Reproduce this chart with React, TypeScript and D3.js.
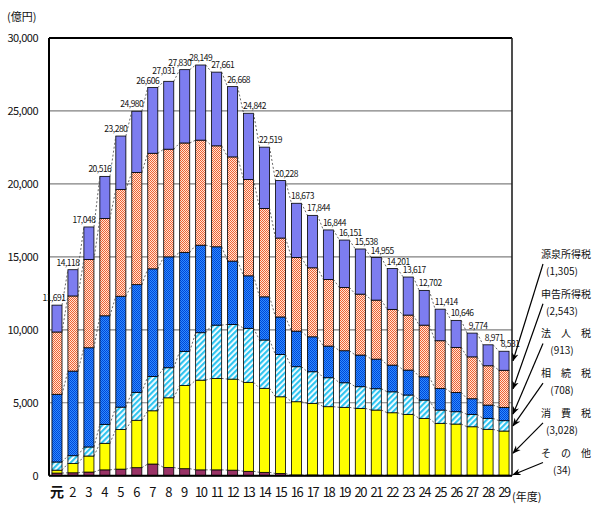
import React from 'react';
import * as d3 from 'd3';

const years = ['元','2','3','4','5','6','7','8','9','10','11','12','13','14','15','16','17','18','19','20','21','22','23','24','25','26','27','28','29'];
const totals = [11691,14118,17048,20516,23280,24980,26606,27031,27830,28149,27661,26668,24842,22519,20228,18673,17844,16844,16151,15538,14955,14201,13617,12702,11414,10646,9774,8971,8531];

// stacked from bottom to top
const sonota = [180,200,250,400,450,550,800,560,480,400,400,380,300,230,150,50,50,40,40,40,40,35,35,35,35,35,35,35,34];
const shohi = [200,630,1100,1820,2720,3250,3650,4780,5700,6150,6270,6240,6100,5760,5260,5020,4910,4690,4645,4575,4460,4280,4170,3895,3555,3505,3320,3145,3028];
const sozoku = [560,540,620,1300,1530,1915,2350,2060,2345,3250,3650,3750,3700,3310,2895,2400,2165,1985,1685,1485,1460,1435,1325,1255,910,845,850,750,708];
const hojin = [4640,5800,6800,7440,7600,7380,7380,7600,6785,6000,5370,4340,3600,2960,2575,2440,2395,2170,2195,2170,2030,1830,1710,1595,1485,1325,1070,910,913];
const shinkoku = [4270,5150,6050,6670,7310,7690,7920,7380,7495,7200,6920,7140,6600,6060,5410,5050,4730,4565,4340,4175,4045,3820,3770,3540,3265,3085,2870,2695,2543];
const gensen = [1841,1798,2228,2886,3670,4195,4506,4651,5025,5149,5051,4818,4542,4199,3938,3713,3594,3394,3246,3093,2920,2801,2607,2382,2164,1851,1629,1436,1305];

const seriesKeys = ['sonota','shohi','sozoku','hojin','shinkoku','gensen'];
const seriesNames = ['そ　の　他','消　費　税','相　続　税','法　人　税','申告所得税','源泉所得税'];
const seriesData = [sonota, shohi, sozoku, hojin, shinkoku, gensen];
const yTicks = [0,5000,10000,15000,20000,25000,30000];

const fills: Record<string, string> = {
  sonota: '#993366',
  shohi: '#FFFF00',
  sozoku: 'url(#pHatch)',
  hojin: 'url(#pBlue)',
  shinkoku: 'url(#pOrange)',
  gensen: '#7D7DF0',
};

const fmt = d3.format(',');

export default function App() {
  const W = 600, H = 513;
  const left = 49, right = 512, top = 38, bottom = 475.7;
  const x = d3.scaleBand<string>().domain(years).range([left, right]).paddingInner(0.37).paddingOuter(0.185);
  const y = d3.scaleLinear().domain([0, 30000]).range([bottom, top]);
  const rows = years.map((yr, i) => {
    const r: any = { year: yr };
    seriesKeys.forEach((k, j) => (r[k] = seriesData[j][i]));
    return r;
  });
  const stacked = d3.stack<any>().keys(seriesKeys)(rows);
  const bw = x.bandwidth();
  const maxIdx = totals.indexOf(Math.max(...totals));
  const font = '"Noto Sans CJK JP", "Noto Sans", sans-serif';
  const lastIdx = years.length - 1;

  return (
    <svg width={W} height={H} style={{ position: 'absolute', left: 0, top: 0, background: '#fff' }}>
      <defs>
        <pattern id="pOrange" width="2" height="2" patternUnits="userSpaceOnUse">
          <rect width="2" height="2" fill="#FFE4D6" />
          <rect x="0" y="0" width="1" height="1" fill="#F06232" />
          <rect x="1" y="1" width="1" height="1" fill="#F06232" />
        </pattern>
        <pattern id="pBlue" width="2" height="2" patternUnits="userSpaceOnUse">
          <rect width="2" height="2" fill="#2E8CFF" />
          <rect x="0" y="0" width="1" height="1" fill="#0046D8" />
          <rect x="1" y="1" width="1" height="1" fill="#0046D8" />
        </pattern>
        <pattern id="pHatch" width="4" height="4" patternUnits="userSpaceOnUse" patternTransform="rotate(45)">
          <rect width="4" height="4" fill="#FFFFFF" />
          <rect x="0" y="0" width="2.2" height="4" fill="#2EC4F0" />
        </pattern>
        <marker id="arrow" viewBox="0 0 10 10" refX="9" refY="5" markerWidth="7" markerHeight="7" orient="auto">
          <path d="M0,1 L10,5 L0,9 L3,5 Z" fill="#000" />
        </marker>
      </defs>

      {/* grid */}
      {yTicks.map(t => (
        <line key={'g' + t} x1={left} x2={right} y1={y(t)} y2={y(t)} stroke={t === 30000 || t === 0 ? '#000' : '#808080'} strokeWidth={t === 30000 ? 2 : 1.2} />
      ))}
      <line x1={right} x2={right} y1={top} y2={bottom} stroke="#222" strokeWidth={1.6} />

      {/* bars */}
      {stacked.map(s => (
        <g key={s.key}>
          {s.map((d, i) => (
            <rect key={i} x={x(years[i])} y={y(d[1])} width={bw} height={Math.max(0, y(d[0]) - y(d[1]))}
              fill={fills[s.key]} stroke="#000" strokeWidth={0.8} />
          ))}
        </g>
      ))}

      {/* dashed connectors */}
      {stacked.map(s => (
        <g key={'c' + s.key}>
          {s.slice(0, -1).map((d, i) => (
            <line key={i} x1={(x(years[i]) as number) + bw} y1={y(d[1])} x2={x(years[i + 1]) as number} y2={y(s[i + 1][1])}
              stroke="#444" strokeWidth={0.8} strokeDasharray="2,2" />
          ))}
        </g>
      ))}

      {/* axes lines */}
      <line x1={left} x2={left} y1={top} y2={bottom} stroke="#000" strokeWidth={2} />
      <line x1={left} x2={right} y1={bottom} y2={bottom} stroke="#000" strokeWidth={2} />

      {/* total labels */}
      {totals.map((t, i) => {
        const cx = (x(years[i]) as number) + bw / 2;
        let dx = 6;
        let dy = 4;
        if (i === maxIdx) dx = 0;
        else if (i < lastIdx && totals[i + 1] > t) {
          dx = i === 0 ? -3 : -5;
          if (i > 0 && t - totals[i - 1] < 600) dy = 7.5;
        }
        return (
          <text key={'t' + i} x={cx + dx} y={y(t) - dy} fontSize={8.5} textAnchor="middle" fontFamily={font} letterSpacing={-0.5} fill="#111">
            {fmt(t)}
          </text>
        );
      })}

      {/* y tick labels */}
      {yTicks.map(t => (
        <text key={'yt' + t} x={38} y={y(t) + 4} fontSize={11} textAnchor="end" fontFamily={font} letterSpacing={-0.5} fill="#111">
          {fmt(t)}
        </text>
      ))}
      <text x={7} y={21} fontSize={11} fontFamily={font} fill="#111">(億円)</text>

      {/* x tick labels */}
      {years.map((yr, i) => (
        <text key={'x' + i} x={(x(yr) as number) + bw / 2} y={497} fontSize={yr === '元' ? 14 : 13} fontWeight={yr === '元' ? 'bold' : 'normal'}
          textAnchor="middle" fontFamily={font} letterSpacing={yr.length > 1 ? -1.5 : 0} fill="#111">
          {yr}
        </text>
      ))}
      <text x={512} y={501} fontSize={11} fontFamily={font} fill="#111">(年度)</text>

      {/* legend with arrows */}
      {seriesKeys.map((k, j) => {
        const li = seriesKeys.length - 1 - j;
        const ny = 254 + li * 39.7;
        const vy = ny + 17;
        const seg = stacked[j][lastIdx];
        const ey = j === 0 ? bottom - 1 : (y(seg[0]) + y(seg[1])) / 2;
        return (
          <g key={'lg' + k}>
            <text x={566} y={ny + 4} fontSize={10} textAnchor="middle" fontFamily={font} fill="#111">{seriesNames[j]}</text>
            <text x={562} y={vy + 4} fontSize={10} textAnchor="middle" fontFamily={font} fill="#111">({fmt(seriesData[j][lastIdx])})</text>
            <line x1={543} y1={vy - 7} x2={right + 1} y2={ey} stroke="#000" strokeWidth={1.2} markerEnd="url(#arrow)" />
          </g>
        );
      })}
    </svg>
  );
}
